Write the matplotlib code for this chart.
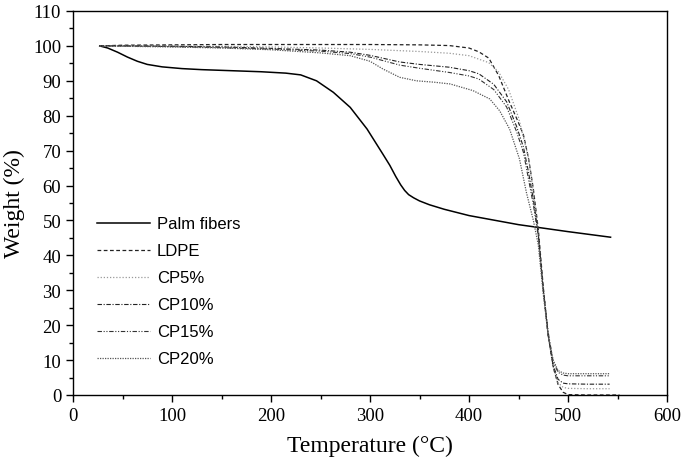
import matplotlib
matplotlib.use("Agg")
import matplotlib.pyplot as plt
from matplotlib.ticker import MultipleLocator

# TGA curves
palm_t = [27, 35, 45, 55, 65, 75, 90, 110, 130, 160, 190, 215, 230, 246, 263, 280, 297, 313, 320, 326, 331, 335, 339, 344, 350, 360, 375, 400, 450, 500, 543]
palm_w = [100, 99.4, 98.2, 96.8, 95.6, 94.7, 94.0, 93.5, 93.2, 92.9, 92.6, 92.2, 91.7, 90.0, 86.7, 82.4, 76.2, 69.0, 65.8, 62.6, 60.2, 58.6, 57.4, 56.5, 55.6, 54.5, 53.2, 51.4, 48.8, 46.8, 45.2]

ldpe_t = [27, 50, 100, 150, 200, 250, 300, 350, 380, 400, 410, 420, 430, 440, 450, 455, 460, 465, 470, 475, 480, 485, 490, 495, 500, 520, 552]
ldpe_w = [100, 100.2, 100.3, 100.4, 100.4, 100.4, 100.4, 100.3, 100.1, 99.4, 98.3, 96.5, 91.5, 84.5, 78, 74.5, 68, 59, 47.5, 31, 17, 8, 3.0, 0.8, 0.1, 0, 0]

cp5_t = [27, 50, 100, 150, 200, 250, 300, 350, 380, 400, 420, 430, 440, 450, 460, 465, 470, 475, 480, 485, 490, 495, 500, 520, 542]
cp5_w = [100, 100, 100, 99.9, 99.7, 99.4, 99.0, 98.4, 97.9, 97.2, 95.2, 92.5, 87.5, 79.5, 68, 58, 46, 30, 17, 8, 3.5, 2.2, 1.9, 1.8, 1.8]

cp10_t = [27, 50, 100, 150, 200, 250, 280, 300, 330, 350, 380, 400, 410, 425, 438, 448, 455, 460, 465, 470, 475, 480, 485, 490, 495, 500, 520, 542]
cp10_w = [100, 100, 99.9, 99.7, 99.3, 98.8, 98.2, 97.3, 95.4, 94.7, 93.9, 92.9, 92.0, 89, 84, 77, 71, 64, 56, 46, 30, 17, 8.5, 4.5, 3.4, 3.2, 3.1, 3.1]

cp15_t = [27, 50, 100, 150, 200, 250, 280, 300, 330, 350, 380, 400, 410, 425, 438, 448, 455, 460, 465, 470, 475, 480, 485, 490, 495, 500, 520, 542]
cp15_w = [100, 100, 99.8, 99.5, 99.1, 98.5, 97.8, 96.8, 94.5, 93.6, 92.4, 91.4, 90.5, 87.5, 82.5, 75.5, 69.5, 62, 54.5, 45.5, 30.5, 18, 9.5, 6.5, 5.7, 5.5, 5.5, 5.5]

cp20_t = [27, 50, 100, 150, 200, 250, 280, 300, 313, 330, 347, 365, 381, 404, 421, 431, 441, 451, 458, 465, 470, 475, 480, 485, 490, 495, 500, 520, 542]
cp20_w = [100, 99.9, 99.7, 99.4, 98.9, 98.0, 97.2, 95.6, 93.4, 91.0, 90.0, 89.6, 89.1, 87.2, 84.8, 81.4, 76.2, 67.6, 58, 50, 43, 29, 17, 10, 7.0, 6.3, 6.1, 6.1, 6.1]

plt.rcParams['font.family'] = 'Liberation Serif'

fig = plt.figure(figsize=(6.83, 4.64), dpi=100)
ax = fig.add_axes([73/683, 68/464, 594/683, 384/464])

ax.plot(palm_t, palm_w, color='black', linestyle='-', linewidth=1.1, label='Palm fibers')
ax.plot(ldpe_t, ldpe_w, color='#222222', linestyle=(0, (3, 2)), linewidth=0.9, label='LDPE')
ax.plot(cp5_t, cp5_w, color='#999999', linestyle=(0, (1, 1.5)), linewidth=0.9, label='CP5%')
ax.plot(cp10_t, cp10_w, color='#222222', linestyle=(0, (4, 1.5, 1, 1.5)), linewidth=0.8, label='CP10%')
ax.plot(cp15_t, cp15_w, color='#333333', linestyle=(0, (4, 1.5, 1, 1.5, 1, 1.5)), linewidth=0.8, label='CP15%')
ax.plot(cp20_t, cp20_w, color='#555555', linestyle=(0, (1, 1)), linewidth=0.9, label='CP20%')

ax.set_xlim(0, 600)
ax.set_ylim(0, 110)
ax.xaxis.set_major_locator(MultipleLocator(100))
ax.xaxis.set_minor_locator(MultipleLocator(50))
ax.yaxis.set_major_locator(MultipleLocator(10))
ax.yaxis.set_minor_locator(MultipleLocator(5))
ax.tick_params(which='both', direction='out', top=False, right=False, labelsize=13.5, width=1)
ax.tick_params(which='major', length=5)
ax.tick_params(which='minor', length=3)
for s in ax.spines.values():
    s.set_linewidth(1)

ax.set_xlabel('Temperature (°C)', fontsize=17, labelpad=8)
ax.set_ylabel('Weight (%)', fontsize=17, labelpad=6)

leg = ax.legend(loc='upper left', bbox_to_anchor=(0.04, 0.465), frameon=False,
                borderpad=0, borderaxespad=0, handlelength=3.2, handletextpad=0.4,
                labelspacing=0.72, prop={'family': 'Liberation Sans', 'size': 12})

fig.savefig('out.png', dpi=100)
